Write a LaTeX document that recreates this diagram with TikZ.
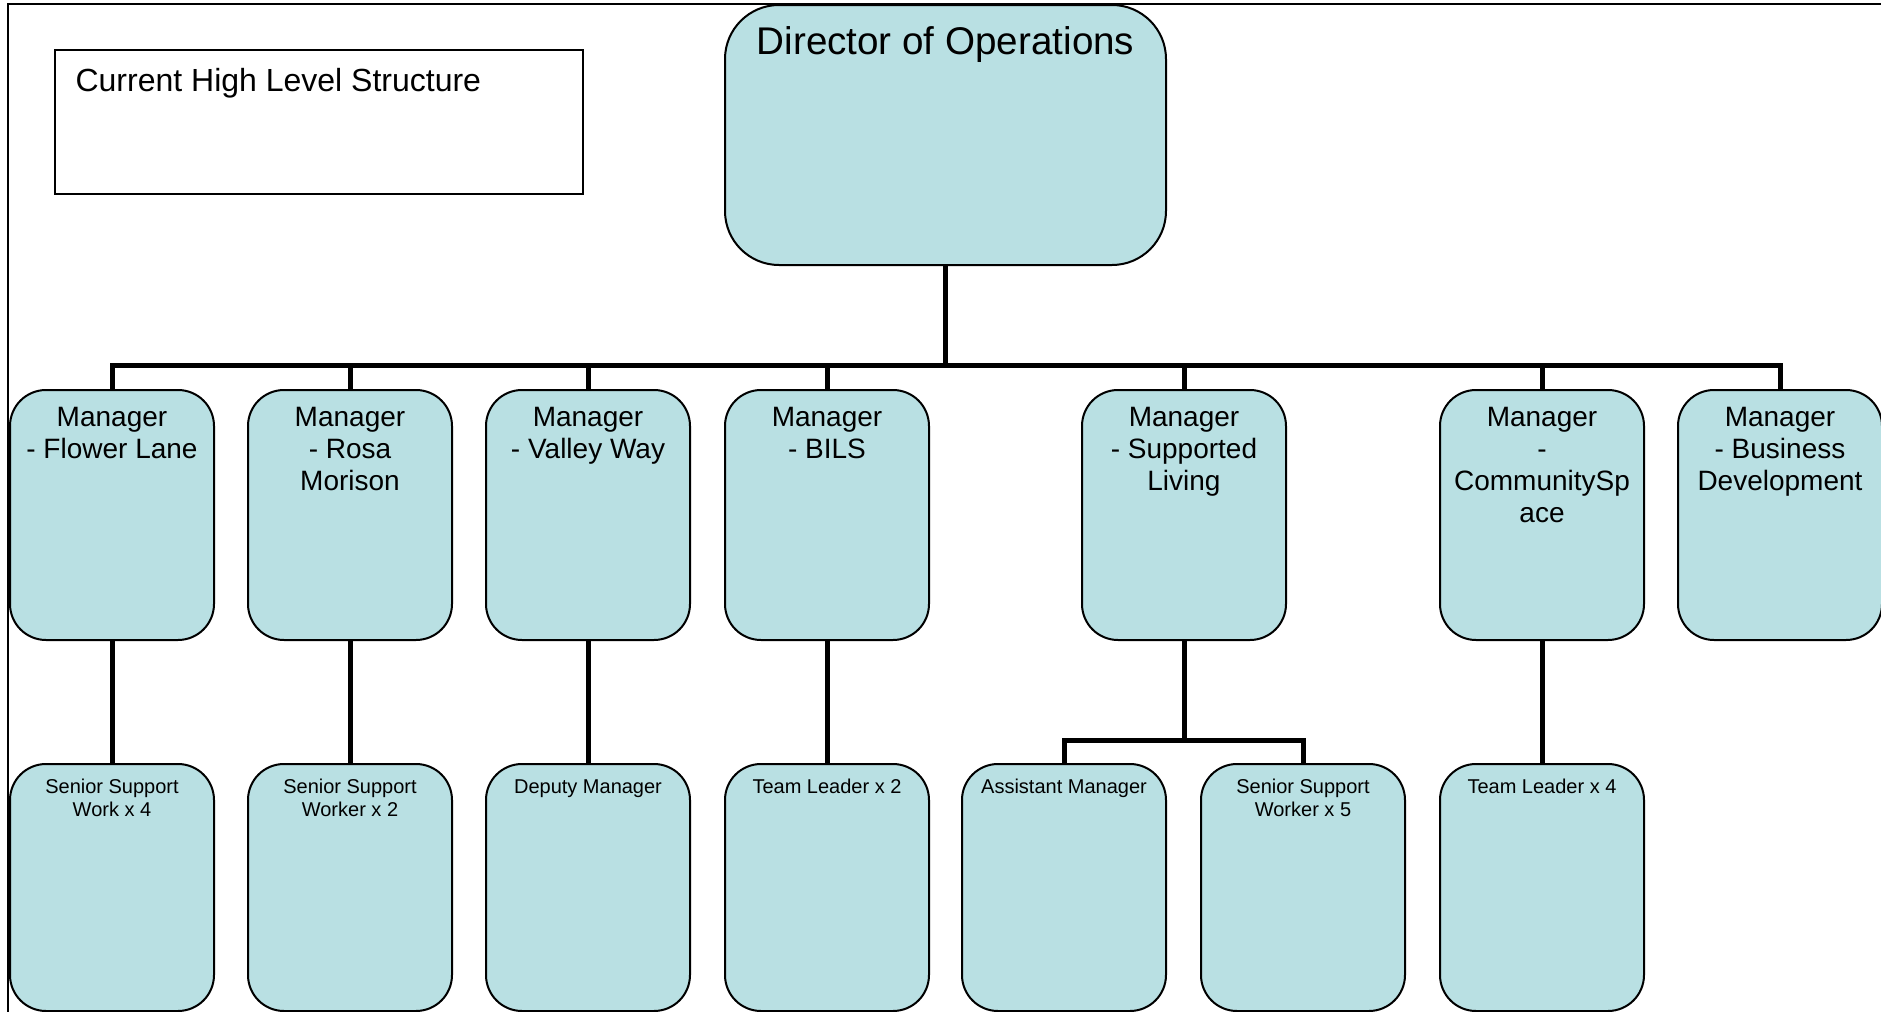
\documentclass[tikz,border=0pt]{standalone}
\usepackage{fontspec}
\setmainfont{Liberation Sans}
\definecolor{boxblue}{RGB}{185,224,227}
\begin{document}
\begin{tikzpicture}[x=0.5pt,y=-0.5pt,
  box/.style={draw=black,line width=1pt,fill=boxblue,rounded corners=18pt,minimum width=102pt},
  mgr/.style={box,minimum height=125pt},
  sub/.style={box,minimum height=123.5pt},
  mgrtxt/.style={anchor=north,align=center,inner sep=0pt,yshift=-9pt,font=\fontsize{14}{16}\selectfont},
  subtxt/.style={anchor=north,align=center,inner sep=0pt,yshift=-8pt,font=\fontsize{10}{11.5}\selectfont},
  conn/.style={line width=2.5pt,black}]
\useasboundingbox (0,0) rectangle (1881,1012);
\clip (0,0) rectangle (1881,1012);
\draw[line width=0.8pt] (8,1012)--(8,4)--(1881,4);

\node (title) at (319,122) [draw=black,line width=0.8pt,minimum width=264pt,minimum height=72pt,
  label={[anchor=north west,inner sep=0pt,xshift=10.5pt,yshift=-9.3pt,font=\fontsize{16}{19}\selectfont]north west:Current High Level Structure}]{};

\node (dir) at (945.5,135) [box,rounded corners=27pt,minimum width=220.5pt,minimum height=130pt,
  label={[anchor=north,inner sep=0pt,yshift=-11pt,font=\fontsize{19.3}{22}\selectfont]north:Director of Operations}]{};

 \node (m1) at (112,515) [mgr,label={[mgrtxt]north:Manager\\- Flower Lane}]{};
 \node (m2) at (350,515) [mgr,label={[mgrtxt]north:Manager\\- Rosa\\Morison}]{};
 \node (m3) at (588,515) [mgr,label={[mgrtxt]north:Manager\\- Valley Way}]{};
 \node (m4) at (827,515) [mgr,label={[mgrtxt]north:Manager\\- BILS}]{};
 \node (m5) at (1184,515) [mgr,label={[mgrtxt]north:Manager\\- Supported\\Living}]{};
 \node (m6) at (1542,515) [mgr,label={[mgrtxt]north:Manager\\-\\CommunitySp\\ace}]{};
 \node (m7) at (1780,515) [mgr,label={[mgrtxt]north:Manager\\- Business\\Development}]{};

 \node (s1) at (112,887.5) [sub,label={[subtxt]north:Senior Support\\Work x 4}]{};
 \node (s2) at (350,887.5) [sub,label={[subtxt]north:Senior Support\\Worker x 2}]{};
 \node (s3) at (588,887.5) [sub,label={[subtxt]north:Deputy Manager}]{};
 \node (s4) at (827,887.5) [sub,label={[subtxt]north:Team Leader x 2}]{};
 \node (s5) at (1064,887.5) [sub,label={[subtxt]north:Assistant Manager}]{};
 \node (s6) at (1303,887.5) [sub,label={[subtxt]north:Senior Support\\Worker x 5}]{};
 \node (s7) at (1542,887.5) [sub,label={[subtxt]north:Team Leader x 4}]{};

\coordinate (bus) at (945.5,365);
\coordinate (sbus) at (1184,740);

\draw[conn] (dir.south)--(bus);
\draw[conn] (m1.north) |- (bus);
\draw[conn] (m2.north) |- (bus);
\draw[conn] (m3.north) |- (bus);
\draw[conn] (m4.north) |- (bus);
\draw[conn] (m5.north) |- (bus);
\draw[conn] (m6.north) |- (bus);
\draw[conn] (m7.north) |- (bus);

\draw[conn] (m1.south)--(s1.north);
\draw[conn] (m2.south)--(s2.north);
\draw[conn] (m3.south)--(s3.north);
\draw[conn] (m4.south)--(s4.north);
\draw[conn] (m5.south)--(sbus);
\draw[conn] (s5.north) |- (sbus);
\draw[conn] (s6.north) |- (sbus);
\draw[conn] (m6.south)--(s7.north);

\end{tikzpicture}
\end{document}
